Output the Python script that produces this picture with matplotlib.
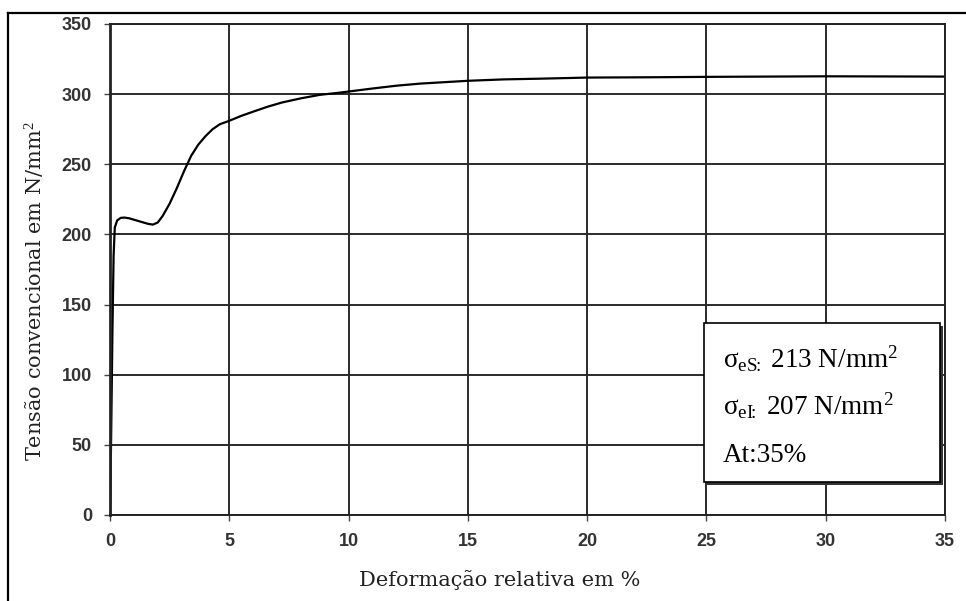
import matplotlib.pyplot as plt
from matplotlib.lines import Line2D
from matplotlib.patches import Rectangle

plt.rcParams['mathtext.fontset'] = 'custom'
plt.rcParams['mathtext.rm'] = 'Liberation Serif'
plt.rcParams['mathtext.it'] = 'Liberation Serif:italic'

# tensile test curve (strain in %, stress in N/mm2)
strain = [0, 0.05, 0.1, 0.15, 0.2, 0.3, 0.45, 0.6, 0.8, 1.0, 1.3, 1.6, 1.8,
          2.0, 2.2, 2.5, 2.8, 3.1, 3.4, 3.7, 4.0, 4.3, 4.6, 5.0, 5.5, 6.0,
          6.6, 7.2, 8.0, 8.8, 9.6, 10.3, 11, 12, 13, 14, 15, 16.5, 18, 20,
          22.5, 25, 27.5, 30, 32.5, 35]
stress = [0, 60, 130, 185, 205, 210, 211.8, 212, 211.5, 210.5, 209, 207.5, 207,
          208.5, 213, 222, 233, 245, 256, 264, 270, 275, 278.5, 281, 284.5,
          287.5, 291, 294, 297, 299.5, 301, 302.5, 304, 306, 307.5, 308.5,
          309.5, 310.5, 311, 311.8, 312, 312.3, 312.5, 312.7, 312.6, 312.5]

x_ticks = [0, 5, 10, 15, 20, 25, 30, 35]
y_ticks = [0, 50, 100, 150, 200, 250, 300, 350]

sigma_es = 213
sigma_ei = 207
elong = 35

fig = plt.figure(figsize=(9.66, 6.01), dpi=100)
ax = fig.add_axes([0.1139, 0.1431, 0.8644, 0.817])

ax.plot(strain, stress, color='black', lw=1.6, solid_capstyle='round')

ax.set_xlim(0, 35)
ax.set_ylim(0, 350)
ax.set_xticks(x_ticks)
ax.set_yticks(y_ticks)
ax.grid(True, color='#2a2a2a', lw=1.4)
ax.set_axisbelow(True)
for side, sp in ax.spines.items():
    sp.set_color('#222222')
    sp.set_linewidth(1.4)
ax.spines['left'].set_linewidth(2.0)

ax.tick_params(direction='out', length=4, width=1, color='#444444',
               labelcolor='#333333', pad=9)
for lab in ax.get_xticklabels() + ax.get_yticklabels():
    lab.set_fontfamily('Liberation Sans')
    lab.set_fontweight('bold')
    lab.set_fontsize(13)

fig.text(0.5176, 0.035, 'Deformação relativa em %', ha='center', va='center',
         family='DejaVu Serif', fontsize=15, color='#222222')
fig.text(0.036, 0.515, 'Tensão convencional em N/mm$^2$', rotation=90,
         ha='center', va='center', family='DejaVu Serif', fontsize=15,
         color='#222222')

# results box with drop shadow
bx, by, bw, bh = 704 / 966, 1 - 482 / 601, 236 / 966, 159 / 601
fig.add_artist(Rectangle((bx + 3 / 966, by - 3 / 601), bw, bh,
                         transform=fig.transFigure, facecolor='#333333',
                         edgecolor='none', zorder=5))
fig.add_artist(Rectangle((bx, by), bw, bh, transform=fig.transFigure,
                         facecolor='white', edgecolor='black', lw=1.2,
                         zorder=6))
lines = [
    'σ$_{\\mathrm{eS}\\!\\!:}$ %d N/mm$^2$' % sigma_es,
    'σ$_{\\mathrm{eI}\\!\\!:}$ %d N/mm$^2$' % sigma_ei,
    'At:%d%%' % elong,
]
for i, t in enumerate(lines):
    fig.text(723 / 966, 1 - (368 + 47 * i) / 601, t, ha='left',
             va='baseline', family='Liberation Serif', fontsize=19.5,
             color='black', zorder=7)

# page frame along the top and left edges
fig.add_artist(Line2D([8 / 966, 8 / 966], [0, 1 - 13 / 601],
                      transform=fig.transFigure, color='black', lw=1.6))
fig.add_artist(Line2D([8 / 966, 1], [1 - 13 / 601, 1 - 13 / 601],
                      transform=fig.transFigure, color='black', lw=1.6))

fig.savefig('out.png', dpi=100)
